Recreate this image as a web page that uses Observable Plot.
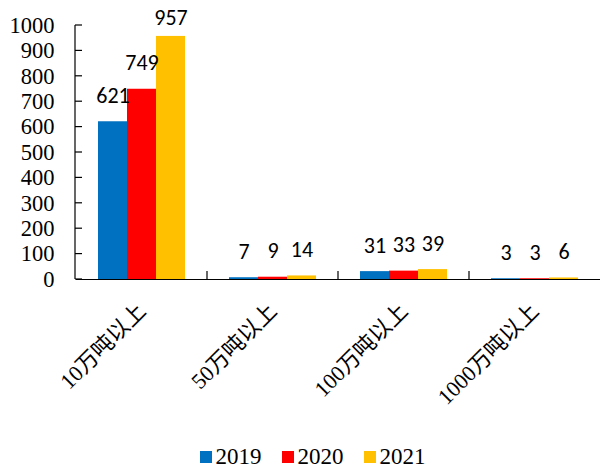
<!DOCTYPE html>
<html>
<head>
<meta charset="utf-8">
<script src="https://cdn.jsdelivr.net/npm/d3@7"></script>
<script src="https://cdn.jsdelivr.net/npm/@observablehq/plot@0.6"></script>
<style>
  html, body { margin: 0; padding: 0; background: #fff; }
  #chart { width: 601px; }
  #chart svg text { font-family: "Liberation Serif", "Times New Roman", "DejaVu Serif", "Noto Sans CJK SC", serif !important; }
  #chart svg g[aria-label="text"] text { font-family: Carlito, Calibri, "Liberation Sans", sans-serif !important; }
  #chart .lg-swatches { justify-content: center !important; font-family: "Liberation Serif", "Times New Roman", "DejaVu Serif", serif !important; font-size: 23px !important; color: #000 !important; margin: 4px 0 0 0 !important; padding-left: 44px; min-height: 26px; align-items: center; }
  #chart .lg-swatch { margin-right: 20px !important; }
  #chart .lg-swatch > svg { margin-right: 4px !important; }
</style>
</head>
<body>
<div id="chart"></div>
<script>
const categories = ["10万吨以上", "50万吨以上", "100万吨以上", "1000万吨以上"];
const years = ["2019", "2020", "2021"];
const values2019 = [621, 7, 31, 3];
const values2020 = [749, 9, 33, 3];
const values2021 = [957, 14, 39, 6];
const colors = ["#0070C0", "#FF0000", "#FFC000"];
const yTicks = [0, 100, 200, 300, 400, 500, 600, 700, 800, 900, 1000];

const series = [values2019, values2020, values2021];
const rows = categories.flatMap((c, i) => years.map((y, j) => ({category: c, year: y, value: series[j][i]})));

// labels near the top of the value axis are kept inside the chart area (as the original does)
const nearTop = d => d.value > 940;
const labelOpts = {fx: "category", x: "year", y: "value", text: d => String(d.value),
  lineAnchor: "bottom", fontSize: 22, fill: "#000"};

const plot = Plot.plot({
  width: 601,
  height: 440,
  marginLeft: 75,
  marginRight: 0,
  marginTop: 25,
  marginBottom: 161,
  style: {color: "#000", background: "#fff", overflow: "visible", fontSize: "22px"},
  fx: {domain: categories, padding: 0, label: null},
  x: {domain: years, paddingInner: 0, paddingOuter: 0.75, axis: null},
  y: {domain: [0, 1000], label: null},
  color: {domain: years, range: colors},
  marks: [
    Plot.barY(rows, {fx: "category", x: "year", y: "value", fill: "year"}),
    Plot.text(rows, {...labelOpts, filter: d => !nearTop(d), dy: -19}),
    Plot.text(rows, {...labelOpts, filter: nearTop, dy: -11}),
    Plot.ruleY([0], {stroke: "#000", strokeWidth: 1.2}),
    Plot.axisY({ticks: yTicks, tickSize: 0, tickPadding: 22, tickFormat: d => String(d), label: null,
      fontSize: 22.5}),
    Plot.axisFx({anchor: "bottom", tickSize: 0, tickRotate: -45, tickPadding: 28, label: null,
      fontSize: 22})
  ]
});

// axis line and inward ticks drawn from the plot's scales
const svg = d3.select(plot);
const ys = plot.scale("y");
const fxs = plot.scale("fx");
const x0 = 75;
const yZero = ys.apply(0);
const g = svg.append("g").attr("stroke", "#000").attr("stroke-width", 1.2);
g.append("line").attr("x1", x0).attr("x2", x0).attr("y1", ys.apply(1000)).attr("y2", yZero);
yTicks.forEach(t => {
  g.append("line").attr("x1", x0).attr("x2", x0 + 7).attr("y1", ys.apply(t)).attr("y2", ys.apply(t));
});
categories.slice(1).forEach(c => {
  const xb = fxs.apply(c);
  g.append("line").attr("x1", xb).attr("x2", xb).attr("y1", yZero).attr("y2", yZero - 8);
});

const legend = Plot.legend({
  color: {domain: years, range: colors},
  legend: "swatches",
  swatchSize: 12,
  className: "lg"
});

const chart = document.getElementById("chart");
chart.appendChild(plot);
chart.appendChild(legend);
</script>
</body>
</html>
